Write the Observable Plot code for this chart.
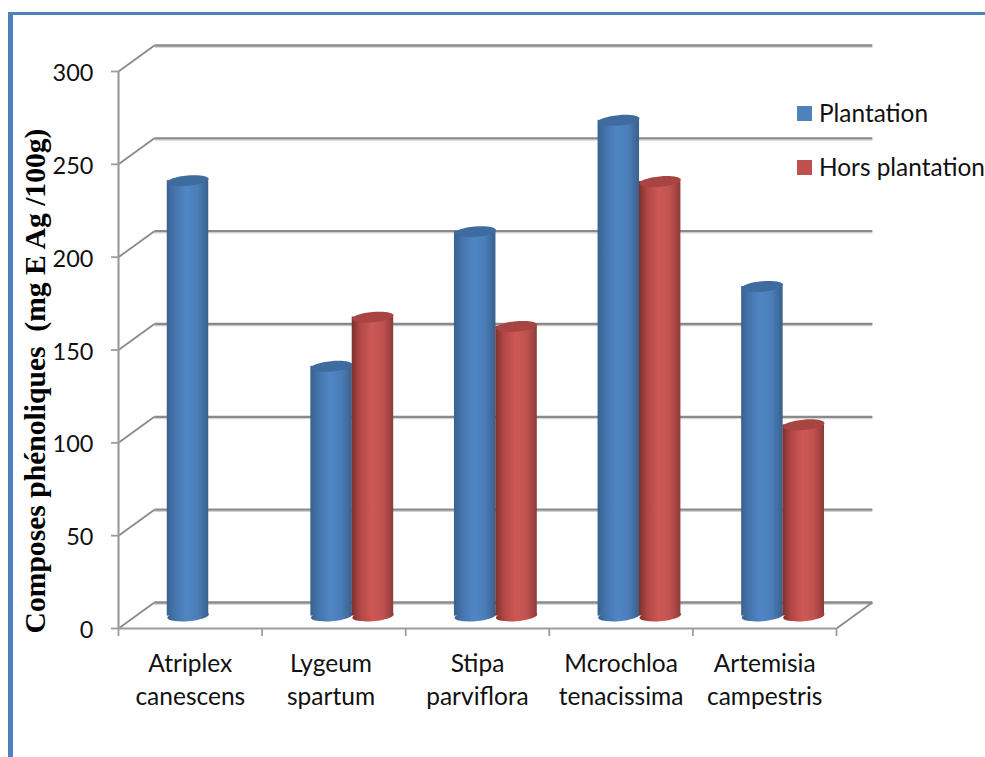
<!DOCTYPE html>
<html>
<head>
<meta charset="utf-8">
<script src="https://cdn.jsdelivr.net/npm/d3@7"></script>
<script src="https://cdn.jsdelivr.net/npm/@observablehq/plot@0.6"></script>
<style>
html,body{margin:0;padding:0;background:#fff;width:985px;height:757px;overflow:hidden}
#frame{position:absolute;left:8px;top:12px;right:0;bottom:0;border-left:5px solid #4f81bd;border-top:3px solid #4f81bd}
#chart{position:absolute;left:0;top:0}
.lg{position:absolute;left:797px;display:flex;align-items:center;font:24.4px Lato,sans-serif;color:#111;white-space:nowrap}
.lg i{display:block;width:15px;height:15px;margin-right:7px;position:relative;top:1px}
</style>
</head>
<body>
<div id="frame"></div>
<div id="chart"></div>
<div class="lg" style="top:98px"><i style="background:#4f81bd"></i>Plantation</div>
<div class="lg" style="top:152px"><i style="background:#c0504d"></i>Hors plantation</div>
<script>
const categories = ["Atriplex\ncanescens", "Lygeum\nspartum", "Stipa\nparviflora", "Mcrochloa\ntenacissima", "Artemisia\ncampestris"];
const categoryTicks = [0.5, 1.48, 2.5, 3.5, 4.5];
const plantation = [234.5, 134.5, 207, 267, 177.5];
const horsPlantation = [null, 161, 156, 234, 103];
const yTicks = [0, 50, 100, 150, 200, 250, 300];
const yTitle = "Composes phénoliques  (mg E Ag /100g)";

const depthX = 0.25, depthY = 14;
const baseY = 6.7, barW = 0.289, blueC = 0.484, redC = 0.772;

const ellipse = {
  draw(ctx, size) {
    const rx = Math.sqrt(size / Math.PI), ry = rx * 0.25, kx = rx * 0.5523, ky = ry * 0.5523;
    ctx.moveTo(-rx, 0);
    ctx.bezierCurveTo(-rx, -ky, -kx, -ry, 0, -ry);
    ctx.bezierCurveTo(kx, -ry, rx, -ky, rx, 0);
    ctx.bezierCurveTo(rx, ky, kx, ry, 0, ry);
    ctx.bezierCurveTo(-kx, ry, -rx, ky, -rx, 0);
    ctx.closePath();
  }
};

const defs = () => {
  const svg = d3.create("svg:defs");
  const grad = (id, stops) => {
    const g = svg.append("linearGradient").attr("id", id).attr("x1", 0).attr("x2", 1).attr("y1", 0).attr("y2", 0);
    stops.forEach(([o, c]) => g.append("stop").attr("offset", o).attr("stop-color", c));
  };
  grad("gBlue", [[0, "#38618f"], [0.2, "#4675ad"], [0.48, "#5086c6"], [0.75, "#4a7db8"], [1, "#3a608c"]]);
  grad("gRed", [[0, "#7c302e"], [0.2, "#b04745"], [0.48, "#ce5856"], [0.75, "#c05250"], [1, "#8f3b39"]]);
  return svg.node();
};

const series = (vals, c, grad, cap) => {
  const d = vals.map((v, i) => ({i, v})).filter(o => o.v != null);
  return [
    Plot.dot(d, {x: o => o.i + c, y: baseY, r: 20.8, symbol: ellipse, rotate: -5, fill: grad, stroke: "none"}),
    Plot.rect(d, {x1: o => o.i + c - barW / 2, x2: o => o.i + c + barW / 2, y1: baseY, y2: o => o.v + baseY, fill: grad}),
    Plot.dot(d, {x: o => o.i + c, y: o => o.v + baseY, r: 20.8, symbol: ellipse, rotate: -5, fill: cap, stroke: "none"})
  ];
};

const gridColor = "#8a8a8a", axisColor = "#9c9c9c";
const labelFont = "Lato, sans-serif";
const chart = Plot.plot({
  width: 985,
  height: 757,
  marginLeft: 118,
  marginRight: 149,
  marginTop: 71,
  marginBottom: 129,
  style: {background: "transparent", overflow: "visible"},
  x: {domain: [0, 5], range: [118, 836]},
  y: {domain: [0, 300], range: [628, 71]},
  marks: [
    defs,
    Plot.link(yTicks, {x1: depthX, x2: 5 + depthX, y1: v => v + depthY, y2: v => v + depthY, dy: 1.8, stroke: "#d0d0d0", strokeWidth: 1}),
    Plot.link(yTicks, {x1: depthX, x2: 5 + depthX, y1: v => v + depthY, y2: v => v + depthY, stroke: gridColor, strokeWidth: 2.4}),
    Plot.link(yTicks, {x1: 0, x2: depthX, y1: v => v, y2: v => v + depthY, stroke: gridColor, strokeWidth: 1.8}),
    Plot.link([0], {x1: 5, x2: 5 + depthX, y1: 0, y2: depthY, stroke: gridColor, strokeWidth: 1.8}),
    Plot.ruleY([0], {x1: 0, x2: 5, stroke: axisColor, strokeWidth: 2.2}),
    Plot.ruleX([0], {y1: 0, y2: 300, stroke: axisColor, strokeWidth: 2.2}),
    Plot.axisY({ticks: yTicks, tickSize: 7, tickFormat: () => "", stroke: axisColor, strokeWidth: 1.8, label: null, strokeOpacity: 1}),
    Plot.axisY({ticks: yTicks, tickSize: 0, tickPadding: 25, dy: 2, label: null, fontSize: 23.5, fontFamily: labelFont, fill: "#111"}),
    Plot.axisX({ticks: d3.range(0, 6), tickSize: 8, tickFormat: () => "", stroke: axisColor, strokeWidth: 1.8, label: null, strokeOpacity: 1}),
    Plot.axisX({ticks: categoryTicks, tickSize: 0, tickPadding: 20, tickFormat: v => categories[Math.floor(v)], label: null, fontSize: 24.5, lineHeight: 1.35, fontFamily: labelFont, fill: "#111", lineAnchor: "top"}),
    ...series(plantation, blueC, "url(#gBlue)", "#3f6c9f"),
    ...series(horsPlantation, redC, "url(#gRed)", "#a84542"),
    Plot.text([yTitle], {frameAnchor: "left", textAnchor: "middle", dx: -83, dy: 31, rotate: -90, fontFamily: "Liberation Serif", fontWeight: "bold", fontSize: 29.6, fill: "#000"})
  ]
});
document.getElementById("chart").append(chart);
</script>
</body>
</html>
